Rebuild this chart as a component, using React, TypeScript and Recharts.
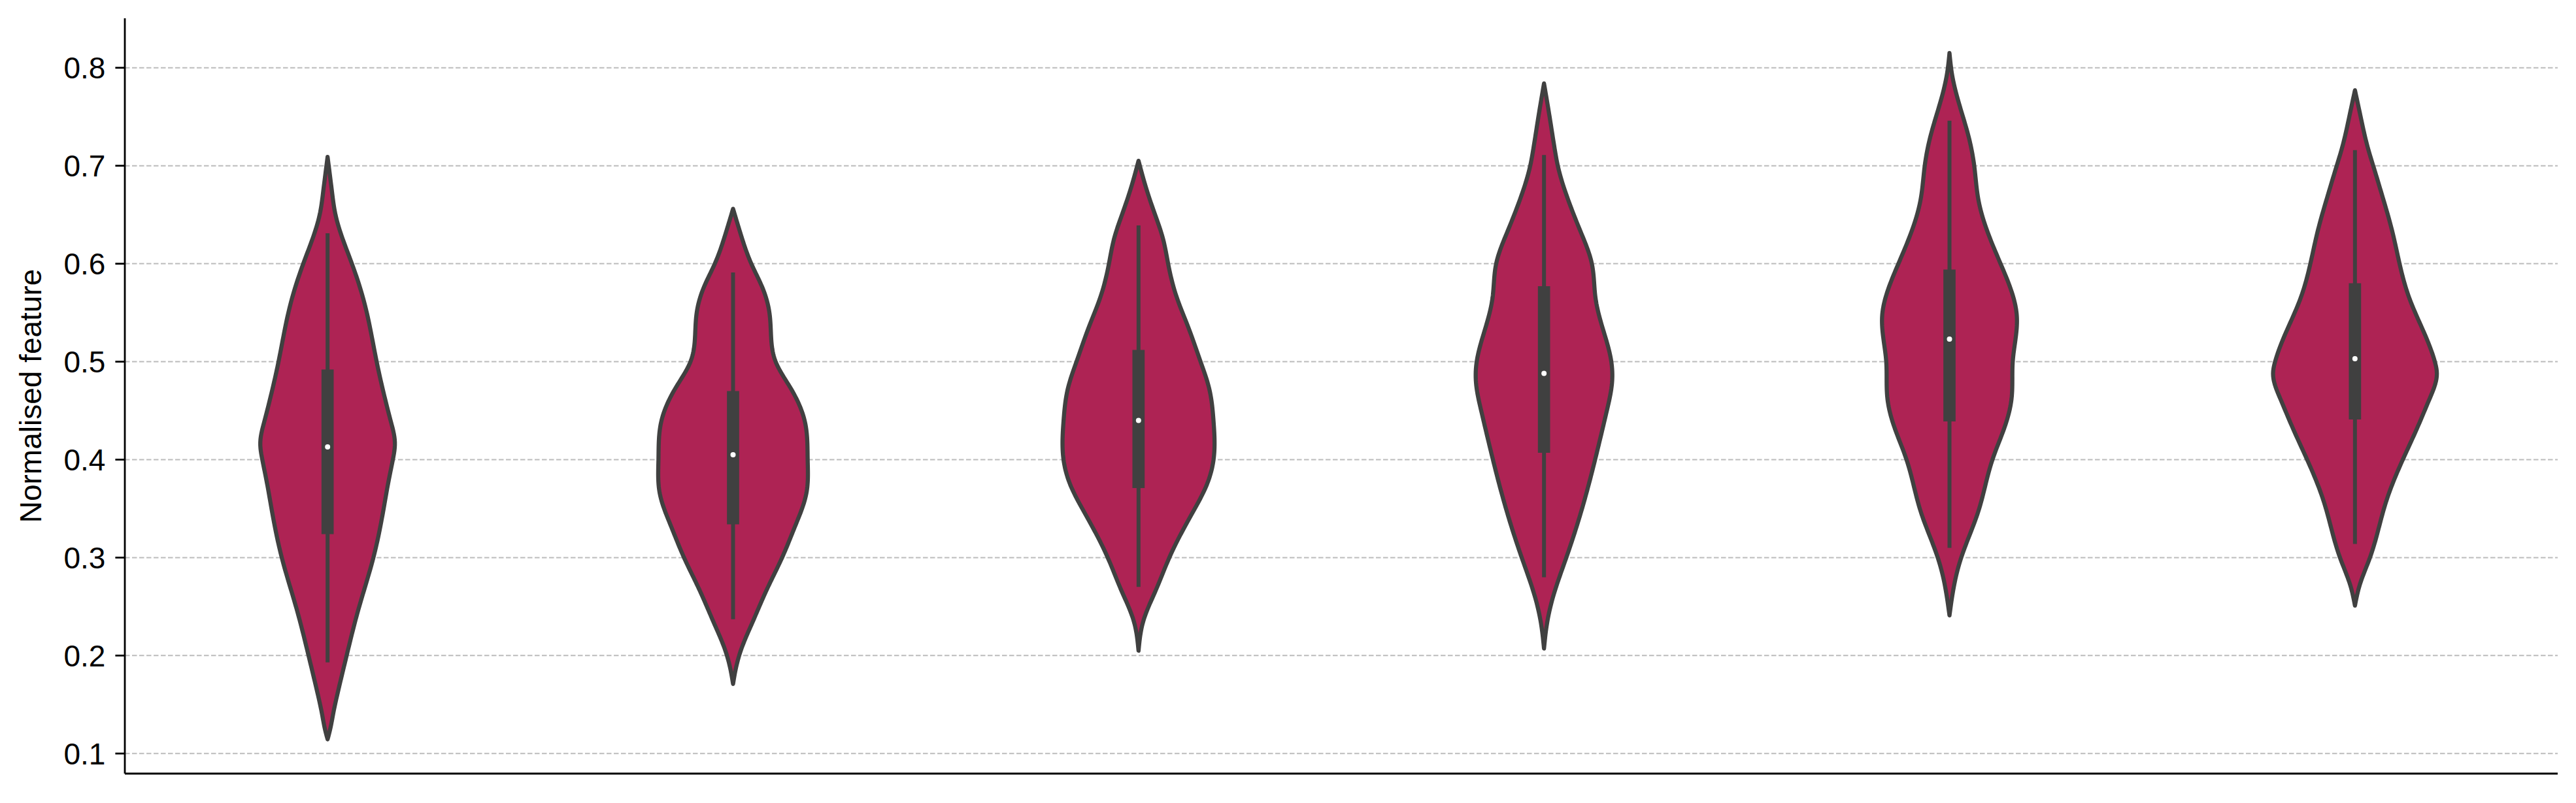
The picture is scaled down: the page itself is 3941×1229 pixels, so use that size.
import { ScatterChart, Scatter, XAxis, YAxis, CartesianGrid } from 'recharts';

// six groups, no tick labels shown on the x axis
const groups = [0, 1, 2, 3, 4, 5];

// violin outlines: [value, half width as a fraction of one group slot], top to bottom
const violin1 = [
  [0.709, 0], [0.673, 0.011], [0.651, 0.019], [0.6, 0.06], [0.558, 0.092], [0.5, 0.121],
  [0.46, 0.143], [0.439, 0.156], [0.417, 0.166], [0.4, 0.161], [0.375, 0.149], [0.354, 0.14],
  [0.3, 0.113], [0.247, 0.076], [0.2, 0.047], [0.162, 0.025], [0.141, 0.014], [0.124, 0.006],
  [0.1145, 0],
];
const violin2 = [
  [0.656, 0], [0.63, 0.019], [0.6, 0.045], [0.575, 0.073], [0.549, 0.09], [0.524, 0.094],
  [0.5, 0.105], [0.473, 0.142], [0.439, 0.177], [0.4, 0.184], [0.366, 0.181], [0.332, 0.153],
  [0.3, 0.121], [0.268, 0.084], [0.234, 0.048], [0.205, 0.019], [0.183, 0.005], [0.171, 0],
];
const violin3 = [
  [0.705, 0], [0.681, 0.016], [0.651, 0.04], [0.626, 0.06], [0.6, 0.073], [0.566, 0.094],
  [0.537, 0.121], [0.5, 0.153], [0.473, 0.174], [0.439, 0.185], [0.4, 0.185], [0.375, 0.169],
  [0.345, 0.132], [0.3, 0.076], [0.268, 0.044], [0.234, 0.011], [0.205, 0],
];
const violin4 = [
  [0.784, 0], [0.752, 0.013], [0.718, 0.026], [0.7, 0.034], [0.667, 0.058], [0.633, 0.09],
  [0.6, 0.118], [0.565, 0.127], [0.531, 0.147], [0.5, 0.166], [0.48, 0.168], [0.45, 0.155],
  [0.4, 0.126], [0.356, 0.098], [0.3, 0.055], [0.258, 0.021], [0.229, 0.006], [0.2072, 0],
];
const violin5 = [
  [0.815, 0], [0.794, 0.006], [0.76, 0.026], [0.73, 0.047], [0.7, 0.061], [0.666, 0.071],
  [0.637, 0.09], [0.6, 0.126], [0.573, 0.152], [0.547, 0.166], [0.5, 0.156], [0.462, 0.153],
  [0.432, 0.135], [0.4, 0.106], [0.347, 0.071], [0.3, 0.029], [0.275, 0.013], [0.241, 0],
];
const violin6 = [
  [0.777, 0], [0.752, 0.013], [0.718, 0.032], [0.7, 0.045], [0.667, 0.069], [0.633, 0.092],
  [0.6, 0.11], [0.565, 0.134], [0.531, 0.169], [0.5, 0.197], [0.488, 0.202], [0.463, 0.185],
  [0.429, 0.15], [0.4, 0.118], [0.356, 0.076], [0.3, 0.037], [0.271, 0.011], [0.251, 0],
];
const violins = [violin1, violin2, violin3, violin4, violin5, violin6];

// inner box stats per group
const whiskerLow = [0.193, 0.237, 0.27, 0.28, 0.31, 0.314];
const q1 = [0.324, 0.334, 0.371, 0.407, 0.439, 0.441];
const median = [0.413, 0.405, 0.44, 0.488, 0.523, 0.503];
const q3 = [0.492, 0.47, 0.512, 0.577, 0.594, 0.58];
const whiskerHigh = [0.631, 0.591, 0.639, 0.711, 0.746, 0.716];

const yTicks = [0.1, 0.2, 0.3, 0.4, 0.5, 0.6, 0.7, 0.8];

const FILL = '#ae2354';
const EDGE = '#404040';
const FONT = '"Liberation Sans", Arial, sans-serif';

// right side top->bottom, then the left side back up (tips not repeated)
const outlineFor = (profile, i) => {
  const right = profile.map(([v, w]) => ({ x: i + w, y: v }));
  const left = profile.slice(1, -1).reverse().map(([v, w]) => ({ x: i - w, y: v }));
  return [...right, ...left];
};

// natural cubic spline through (xs, ys), xs increasing
const naturalSpline = (xs, ys) => {
  const n = xs.length;
  const m = new Array(n).fill(0);
  if (n > 2) {
    const a = [], b = [], c = [], r = [];
    for (let i = 1; i < n - 1; i++) {
      const h0 = xs[i] - xs[i - 1];
      const h1 = xs[i + 1] - xs[i];
      a.push(h0);
      b.push(2 * (h0 + h1));
      c.push(h1);
      r.push(6 * ((ys[i + 1] - ys[i]) / h1 - (ys[i] - ys[i - 1]) / h0));
    }
    const k = b.length;
    for (let i = 1; i < k; i++) {
      const f = a[i] / b[i - 1];
      b[i] -= f * c[i - 1];
      r[i] -= f * r[i - 1];
    }
    const sol = new Array(k);
    sol[k - 1] = r[k - 1] / b[k - 1];
    for (let i = k - 2; i >= 0; i--) sol[i] = (r[i] - c[i] * sol[i + 1]) / b[i];
    for (let i = 0; i < k; i++) m[i + 1] = sol[i];
  }
  return (x) => {
    let j = 0;
    while (j < n - 2 && x > xs[j + 1]) j++;
    const h = xs[j + 1] - xs[j];
    const t0 = xs[j + 1] - x;
    const t1 = x - xs[j];
    return (
      (m[j] * t0 * t0 * t0) / (6 * h) +
      (m[j + 1] * t1 * t1 * t1) / (6 * h) +
      (ys[j] / h - (m[j] * h) / 6) * t0 +
      (ys[j + 1] / h - (m[j + 1] * h) / 6) * t1
    );
  };
};

const violinLine = (props) => {
  const pts = props.points || [];
  const n = (pts.length + 2) / 2;
  if (pts.length < 4) return <g />;
  const right = pts.slice(0, n);
  const cx = (right[1].x + pts[pts.length - 1].x) / 2;
  const ys = right.map((p) => p.y);
  const ws = right.map((p) => p.x - cx);
  ws[0] = 0;
  ws[n - 1] = 0;
  const f = naturalSpline(ys, ws);
  const steps = 200;
  const side = [];
  for (let s = 0; s <= steps; s++) {
    const y = ys[0] + ((ys[n - 1] - ys[0]) * s) / steps;
    side.push([y, Math.max(0, f(y))]);
  }
  const d =
    side.map(([y, w], k) => `${k ? 'L' : 'M'}${(cx + w).toFixed(2)},${y.toFixed(2)}`).join(' ') +
    ' ' +
    side
      .slice()
      .reverse()
      .map(([y, w]) => `L${(cx - w).toFixed(2)},${y.toFixed(2)}`)
      .join(' ') +
    ' Z';
  return <path d={d} fill={FILL} stroke={EDGE} strokeWidth={6.3} strokeLinejoin="round" />;
};

// points come in groups of four: whisker low/high, then q1/q3
const boxLine = (props) => {
  const pts = props.points || [];
  const out = [];
  for (let k = 0; k + 3 < pts.length; k += 4) {
    out.push(
      <line key={`w${k}`} x1={pts[k].x} y1={pts[k].y} x2={pts[k + 1].x} y2={pts[k + 1].y}
        stroke={EDGE} strokeWidth={6} strokeLinecap="butt" />,
      <line key={`b${k}`} x1={pts[k + 2].x} y1={pts[k + 2].y} x2={pts[k + 3].x} y2={pts[k + 3].y}
        stroke={EDGE} strokeWidth={18.7} strokeLinecap="butt" />
    );
  }
  return <g>{out}</g>;
};

const noDot = () => <g />;
const medianDot = (p) => <circle cx={p.cx} cy={p.cy} r={4} fill="#ffffff" />;

const boxData = groups.flatMap((i) => [
  { x: i, y: whiskerLow[i] },
  { x: i, y: whiskerHigh[i] },
  { x: i, y: q1[i] },
  { x: i, y: q3[i] },
]);
const medianData = groups.map((i) => ({ x: i, y: median[i] }));

export default function App() {
  return (
    <div style={{ position: 'absolute', left: 0, top: 0, width: 3941, height: 1229, background: '#fff' }}>
      <ScatterChart width={3941} height={1229} margin={{ top: 28, right: 28, bottom: 44, left: 0 }}>
        {violins.map((profile, i) => (
          <Scatter
            key={`v${i}`}
            data={outlineFor(profile, i)}
            line={violinLine}
            lineType="joint"
            shape={noDot}
            isAnimationActive={false}
          />
        ))}
        <CartesianGrid
          vertical={false}
          horizontalValues={yTicks}
          stroke="#bcbcbc"
          strokeWidth={2}
          strokeDasharray="7.5 3.5"
        />
        <Scatter data={boxData} line={boxLine} lineType="joint" shape={noDot} isAnimationActive={false} />
        <Scatter data={medianData} shape={medianDot} isAnimationActive={false} />
        <XAxis
          type="number"
          dataKey="x"
          domain={[-0.5, 5.5]}
          allowDataOverflow
          tick={false}
          tickLine={false}
          height={1}
          axisLine={{ stroke: '#000', strokeWidth: 2.8 }}
        />
        <YAxis
          type="number"
          dataKey="y"
          domain={[0.0795, 0.8505]}
          allowDataOverflow
          ticks={yTicks}
          width={191}
          tickSize={14.6}
          tickMargin={15}
          tickFormatter={(v) => v.toFixed(1)}
          tick={{ fontFamily: FONT, fontSize: 46, fill: '#000' }}
          tickLine={{ stroke: '#000', strokeWidth: 2.8 }}
          axisLine={{ stroke: '#000', strokeWidth: 2.8 }}
          label={{
            value: 'Normalised feature',
            angle: -90,
            position: 'insideLeft',
            dx: 42,
            style: { textAnchor: 'middle', fontFamily: FONT, fontSize: 46, fill: '#000' },
          }}
        />
      </ScatterChart>
    </div>
  );
}
